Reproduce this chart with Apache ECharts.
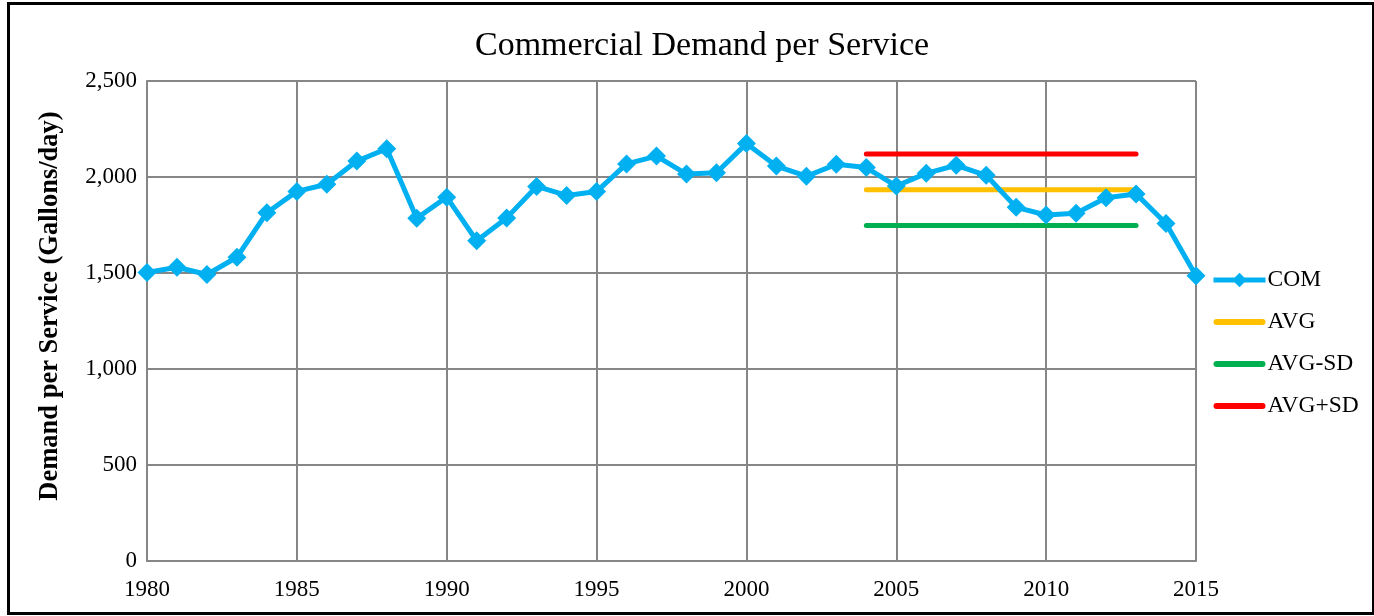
<!DOCTYPE html>
<html>
<head>
    <meta charset="utf-8">
    <title>Commercial Demand per Service</title>
    <script src="https://cdn.jsdelivr.net/npm/echarts@6/dist/echarts.min.js"></script>
    <style>
        html, body { margin: 0; padding: 0; background: #fff; }
        #frame { position: absolute; left: 7px; top: 2px; width: 1362px; height: 607px; border: 3px solid #000; }
        #main { position: absolute; left: 0; top: 0; width: 1374px; height: 616px; }
    </style>
</head>
<body>
<div id="frame"></div>
<div id="main"></div>
<script type="text/javascript">
    // 数据
    var years = [1980, 1981, 1982, 1983, 1984, 1985, 1986, 1987, 1988, 1989,
                 1990, 1991, 1992, 1993, 1994, 1995, 1996, 1997, 1998, 1999,
                 2000, 2001, 2002, 2003, 2004, 2005, 2006, 2007, 2008, 2009,
                 2010, 2011, 2012, 2013, 2014, 2015];
    var com = [1503, 1530, 1492, 1582, 1814, 1925, 1962, 2083, 2147, 1785,
               1895, 1668, 1787, 1951, 1904, 1924, 2068, 2109, 2015, 2022,
               2174, 2057, 2004, 2066, 2049, 1953, 2019, 2061, 2009, 1842,
               1802, 1811, 1892, 1912, 1758, 1486];
    var statYears = [2004, 2013];
    var avg = 1934;
    var avgMinusSd = 1748;
    var avgPlusSd = 2120;

    var serif = '"Liberation Serif", "DejaVu Serif", serif';
    var barIcon = 'path://M3,0 L49,0 A3,3 0 0 1 49,6 L3,6 A3,3 0 0 1 3,0 Z';

    function flat(v) {
        return statYears.map(function (y) { return [y, v]; });
    }

    var myChart = echarts.init(document.getElementById('main'));
    var option = {
        animation: false,
        title: {
            text: 'Commercial Demand per Service',
            left: 470,
            top: 24,
            textStyle: { fontFamily: serif, fontSize: 34, fontWeight: 'normal', color: '#000' }
        },
        legend: {
            orient: 'vertical',
            left: 1211,
            top: 268,
            padding: 0,
            itemWidth: 52,
            itemHeight: 18,
            itemGap: 18,
            lineStyle: { width: 5 },
            textStyle: { fontFamily: serif, fontSize: 23.5, lineHeight: 24, color: '#000', padding: [0, 0, 0, -3] },
            data: [
                { name: 'COM' },
                { name: 'AVG', icon: barIcon },
                { name: 'AVG-SD', icon: barIcon },
                { name: 'AVG+SD', icon: barIcon }
            ]
        },
        grid: { left: 147, right: 178, top: 81, bottom: 55 },
        xAxis: {
            type: 'value',
            min: 1980,
            max: 2015,
            interval: 5,
            axisLine: { show: true, lineStyle: { color: '#868686', width: 2 } },
            axisTick: { show: false },
            axisLabel: {
                fontFamily: serif, fontSize: 23, color: '#000', margin: 17,
                formatter: function (v) { return String(v); }
            },
            splitLine: { show: true, lineStyle: { color: '#868686', width: 2 } }
        },
        yAxis: {
            type: 'value',
            min: 0,
            max: 2500,
            interval: 500,
            name: 'Demand per Service (Gallons/day)',
            nameLocation: 'middle',
            nameGap: 83,
            nameTextStyle: { fontFamily: serif, fontSize: 26.5, fontWeight: 700, color: '#000', padding: [0, 0, 0, 30] },
            axisLine: { show: true, lineStyle: { color: '#868686', width: 2 } },
            axisTick: { show: false },
            axisLabel: {
                fontFamily: serif, fontSize: 23, color: '#000', margin: 10,
                formatter: function (v) { return v.toLocaleString('en-US'); }
            },
            splitLine: { show: true, lineStyle: { color: '#868686', width: 2 } }
        },
        series: [
            {
                name: 'COM',
                type: 'line',
                data: years.map(function (y, i) { return [y, com[i]]; }),
                symbol: 'diamond',
                symbolSize: 19,
                itemStyle: { color: '#00B0F0' },
                lineStyle: { color: '#00B0F0', width: 5 },
                z: 5
            },
            {
                name: 'AVG',
                type: 'line',
                data: flat(avg),
                symbol: 'none',
                itemStyle: { color: '#FFC000' },
                lineStyle: { color: '#FFC000', width: 5, cap: 'round' },
                z: 4
            },
            {
                name: 'AVG-SD',
                type: 'line',
                data: flat(avgMinusSd),
                symbol: 'none',
                itemStyle: { color: '#00B050' },
                lineStyle: { color: '#00B050', width: 5, cap: 'round' },
                z: 4
            },
            {
                name: 'AVG+SD',
                type: 'line',
                data: flat(avgPlusSd),
                symbol: 'none',
                itemStyle: { color: '#FF0000' },
                lineStyle: { color: '#FF0000', width: 5, cap: 'round' },
                z: 4
            }
        ]
    };
    myChart.setOption(option);
</script>
</body>
</html>
